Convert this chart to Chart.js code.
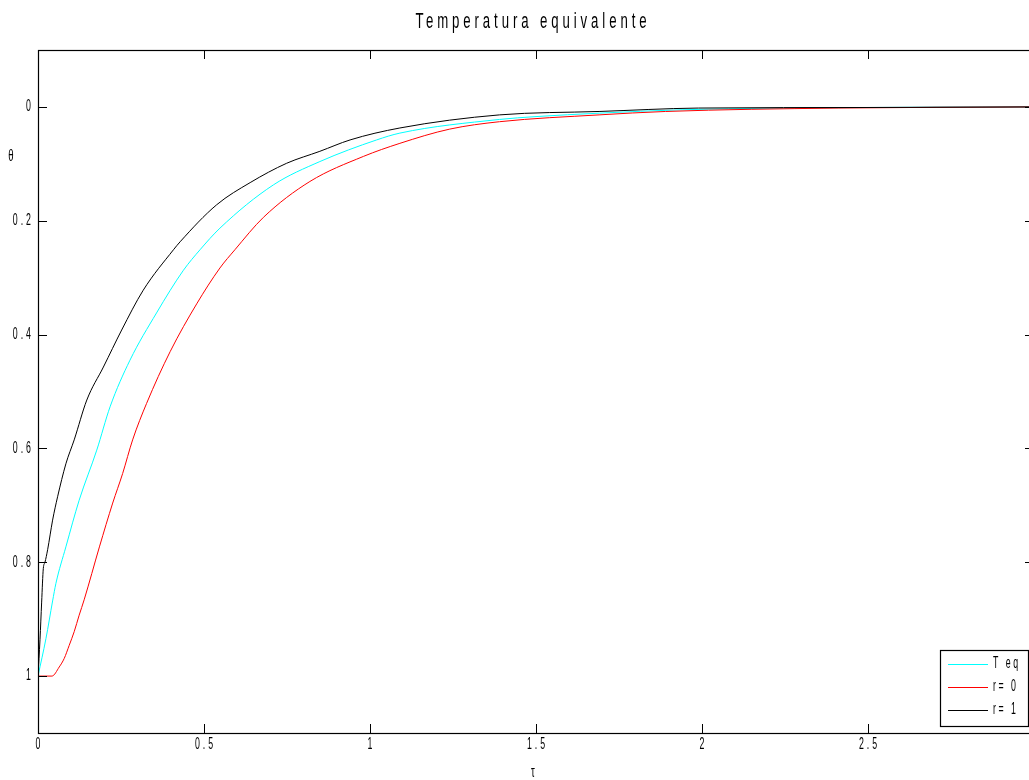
<!DOCTYPE html>
<html>
<head>
<meta charset="utf-8">
<script src="https://cdn.jsdelivr.net/npm/chart.js@4.4.1/dist/chart.umd.min.js"></script>
<style>
html,body{margin:0;padding:0;overflow:hidden;background:#fff;}
#wrap{position:relative;width:1040px;height:780px;}
</style>
</head>
<body>
<div id="wrap"><canvas id="c" width="1040" height="780"></canvas></div>
<script>
// ---- data ----
const chartTitle = 'Temperatura equivalente';
const xAxisLabel = 'τ';
const yAxisLabel = 'θ';
const seriesLabels = ['T eq', 'r= 0', 'r= 1'];
const seriesColors = ['#00ffff', '#ff0000', '#000000'];

const tauTeq   = [0, 0.024, 0.044, 0.054, 0.084, 0.124, 0.177, 0.217, 0.277, 0.357, 0.438, 0.488, 0.548, 0.709, 0.849, 1.02, 1.09, 1.39, 1.5, 1.69, 1.94, 2.5, 3.0];
const thetaTeq = [1.0, 0.934, 0.868, 0.837, 0.773, 0.691, 0.603, 0.527, 0.445, 0.362, 0.287, 0.251, 0.213, 0.137, 0.096, 0.058, 0.046, 0.022, 0.017, 0.011, 0.005, 0.001, 0];

const tauR0   = [0, 0.042, 0.064, 0.079, 0.094, 0.109, 0.124, 0.139, 0.185, 0.225, 0.255, 0.285, 0.327, 0.398, 0.478, 0.548, 0.593, 0.679, 0.819, 0.98, 1.09, 1.24, 1.39, 1.69, 1.89, 2.41, 3.0];
const thetaR0 = [1.0, 1.0, 0.984, 0.969, 0.946, 0.922, 0.893, 0.866, 0.773, 0.696, 0.644, 0.585, 0.521, 0.430, 0.346, 0.283, 0.251, 0.194, 0.131, 0.087, 0.064, 0.039, 0.026, 0.014, 0.008, 0.002, 0];

const tauR1   = [0, 0.006, 0.011, 0.016, 0.021, 0.029, 0.044, 0.059, 0.084, 0.109, 0.147, 0.197, 0.252, 0.317, 0.408, 0.428, 0.538, 0.639, 0.749, 0.849, 0.94, 1.09, 1.39, 1.69, 1.99, 2.5, 3.0];
const thetaR1 = [1.0, 0.936, 0.870, 0.811, 0.80, 0.778, 0.726, 0.685, 0.627, 0.585, 0.515, 0.457, 0.392, 0.322, 0.251, 0.237, 0.172, 0.133, 0.099, 0.078, 0.058, 0.037, 0.014, 0.008, 0.002, 0.001, 0];

const xTickValues = [0, 0.5, 1, 1.5, 2, 2.5, 3];
const yTickValues = [0, 0.2, 0.4, 0.6, 0.8, 1];

// ---- build ----
const FAMILY = "'Liberation Sans', Arial, sans-serif";
const toPts = (xs, ys) => xs.map((x, i) => ({x: x, y: ys[i]}));
const allTau = [tauTeq, tauR0, tauR1];
const allTheta = [thetaTeq, thetaR0, thetaR1];

const datasets = seriesLabels.map((lab, i) => ({
  label: lab,
  data: toPts(allTau[i], allTheta[i]),
  borderColor: seriesColors[i],
  backgroundColor: seriesColors[i],
  borderWidth: 1,
  pointRadius: 0,
  fill: false,
  cubicInterpolationMode: 'monotone',
  order: seriesLabels.length - 1 - i
}));

// condensed, letter-spaced text (whole string per call)
function drawText(ctx, str, x, y, size, sx, gap, align) {
  ctx.save();
  ctx.font = size + 'px ' + FAMILY;
  ctx.textBaseline = 'middle';
  ctx.textAlign = 'left';
  ctx.letterSpacing = '0px';
  const n = Array.from(str).length;
  const w = ctx.measureText(str).width * sx + gap * (n - 1);
  let x0 = x;
  if (align === 'center') x0 = x - w / 2;
  else if (align === 'right') x0 = x - w;
  ctx.translate(x0, y);
  ctx.scale(sx, 1);
  ctx.letterSpacing = (gap / sx) + 'px';
  ctx.fillStyle = '#000';
  ctx.fillText(str, 0, 0);
  ctx.restore();
}

const fmt = v => String(v);

const framePlugin = {
  id: 'frame',
  afterDraw(chart) {
    const ctx = chart.ctx;
    const a = chart.chartArea;
    const xs = chart.scales.x, ys = chart.scales.y;
    const tl = 9;
    ctx.save();
    ctx.strokeStyle = '#000';
    ctx.lineWidth = 1.2;
    ctx.strokeRect(Math.round(a.left) + 0.5, Math.round(a.top) + 0.5, Math.round(a.right - a.left), Math.round(a.bottom - a.top));
    ctx.lineWidth = 1;
    ctx.beginPath();
    xTickValues.forEach(v => {
      const px = Math.round(xs.getPixelForValue(v)) + 0.5;
      ctx.moveTo(px, a.bottom); ctx.lineTo(px, a.bottom - tl);
      ctx.moveTo(px, a.top); ctx.lineTo(px, a.top + tl);
    });
    yTickValues.forEach(v => {
      const py = Math.round(ys.getPixelForValue(v)) + 0.5;
      ctx.moveTo(a.left, py); ctx.lineTo(a.left + tl, py);
      ctx.moveTo(a.right, py); ctx.lineTo(a.right - tl, py);
    });
    ctx.stroke();
    ctx.restore();

    // tick labels
    xTickValues.forEach(v => {
      drawText(ctx, fmt(v), xs.getPixelForValue(v), a.bottom + 12, 16, 0.55, 3, 'center');
    });
    yTickValues.forEach(v => {
      drawText(ctx, fmt(v), a.left - 7, ys.getPixelForValue(v), 16, 0.55, 3, 'right');
    });

    // title and axis labels
    drawText(ctx, chartTitle, (a.left + a.right) / 2 - 5, 22, 22, 0.6, 3.9, 'center');
    drawText(ctx, yAxisLabel, a.left - 27, a.top + 107, 16, 0.6, 0, 'center');
    drawText(ctx, xAxisLabel, (a.left + a.right) / 2 - 3, a.bottom + 40, 16, 0.6, 0, 'center');

    // legend box (bottom-right inside the axes)
    const bw = 88, bh = 76;
    const bx = Math.round(a.right - 6 - bw), by = Math.round(a.bottom - 7 - bh);
    ctx.save();
    ctx.fillStyle = '#fff';
    ctx.fillRect(bx, by, bw, bh);
    ctx.strokeStyle = '#000';
    ctx.lineWidth = 1.2;
    ctx.strokeRect(bx + 0.5, by + 0.5, bw, bh);
    ctx.restore();
    chart.data.datasets.forEach((ds, i) => {
      const ly = by + 14 + i * 23;
      ctx.save();
      ctx.strokeStyle = ds.borderColor;
      ctx.lineWidth = 1;
      ctx.beginPath();
      ctx.moveTo(bx + 8, ly + 0.5); ctx.lineTo(bx + 48, ly + 0.5);
      ctx.stroke();
      ctx.restore();
      drawText(ctx, ds.label, bx + 53, ly, 16, 0.55, 2.5, 'left');
    });
  }
};

new Chart(document.getElementById('c'), {
  type: 'line',
  data: { datasets: datasets },
  plugins: [framePlugin],
  options: {
    responsive: false,
    animation: false,
    devicePixelRatio: 1,
    layout: { padding: { left: 0, right: 6, top: 50, bottom: 0 } },
    plugins: {
      legend: { display: false },
      tooltip: { enabled: false },
      title: { display: false }
    },
    scales: {
      x: {
        type: 'linear',
        min: 0, max: 3,
        grid: { display: false },
        border: { display: false },
        afterBuildTicks: s => { s.ticks = xTickValues.map(v => ({ value: v })); },
        afterFit: s => { s.height = 47; },
        ticks: { display: false }
      },
      y: {
        type: 'linear',
        reverse: true,
        min: -0.1, max: 1.1,
        grid: { display: false },
        border: { display: false },
        afterBuildTicks: s => { s.ticks = yTickValues.map(v => ({ value: v })); },
        afterFit: s => { s.width = 38; },
        ticks: { display: false }
      }
    }
  }
});
</script>
</body>
</html>
